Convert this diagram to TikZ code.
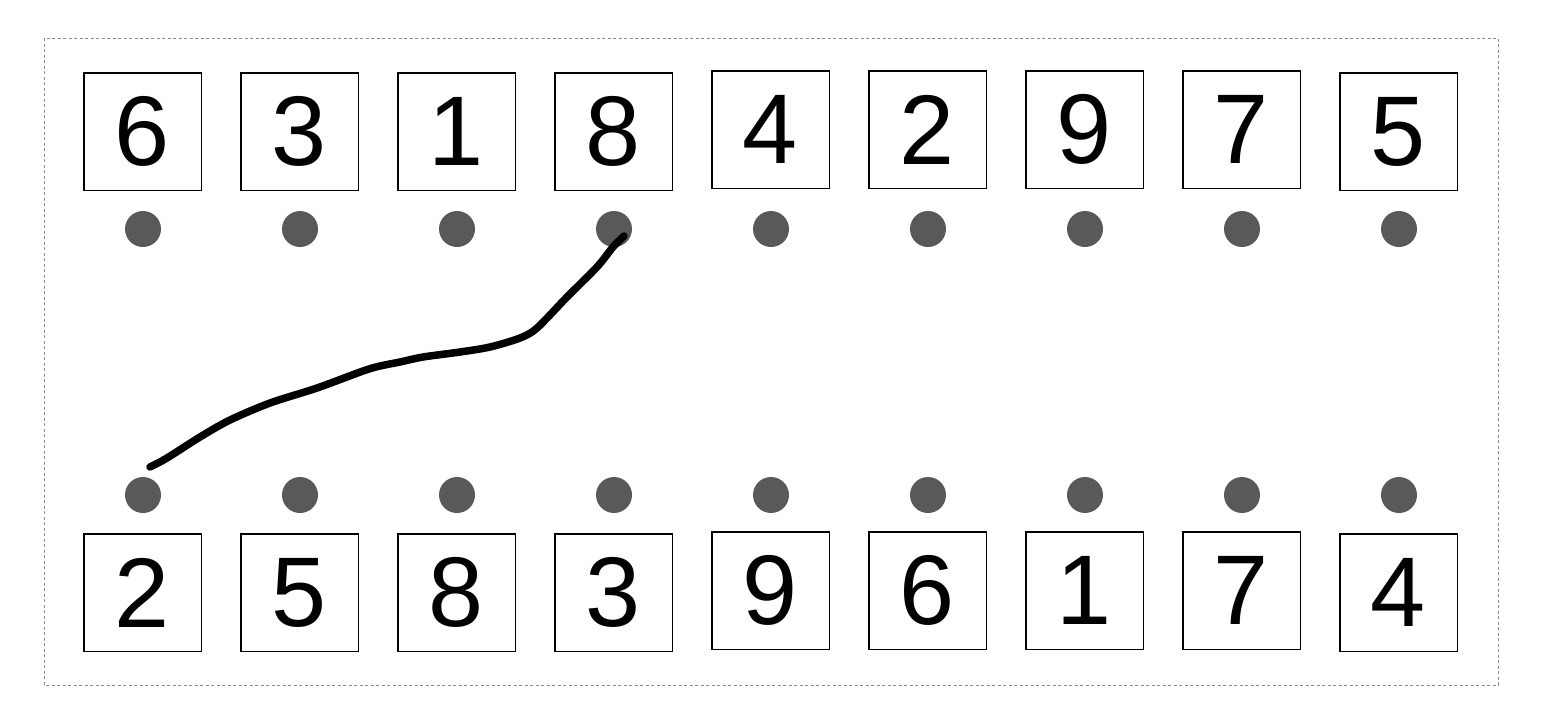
\documentclass[tikz,border=0pt]{standalone}
\usepackage{fontspec}
\setmainfont{Liberation Sans}
\definecolor{dotgray}{HTML}{595959}
\definecolor{framegray}{HTML}{8C8C8C}
\begin{document}
\begin{tikzpicture}[x=1pt,y=-1pt,
  numbox/.style={draw=black, line width=1.5pt, minimum size=117.5pt, inner sep=0pt,
    font=\fontsize{99}{100}\selectfont},
  pin/.style={circle, fill=dotgray, minimum size=36pt, inner sep=0pt},
  swap/.style={line width=7.5pt, line cap=round, line join=round}]
\useasboundingbox (0,0) rectangle (1542,724);
\draw[framegray, line width=1pt, dash pattern=on 3pt off 2.5pt] (44,38) rectangle (1498,685);
% top row
\foreach \v [count=\i from 0] in {6,3,1,8,4,2,9,7,5} {
  \pgfmathsetmacro\yy{(\i>=4 && \i<=7) ? 129.5 : 131.5}
  \node[numbox] (t\i) at (142.5+157*\i,\yy) {\v};
  \node[pin] (tp\i) at (143+157*\i,229) {};
}
% bottom row
\foreach \v [count=\i from 0] in {2,5,8,3,9,6,1,7,4} {
  \pgfmathsetmacro\yy{(\i>=4 && \i<=7) ? 590.5 : 592.5}
  \node[numbox] (b\i) at (142.5+157*\i,\yy) {\v};
  \node[pin] (bp\i) at (143+157*\i,495) {};
}
\coordinate (s) at ([shift={(10,7)}]tp3.center);
\coordinate (e) at ([shift={(7,-28)}]bp0.center);
\draw[swap] plot[smooth, tension=0.5] coordinates {
  (s) (613,247) (597,267) (567,297) (537,328) (520,338) (490,347)
  (460,352) (423,357) (400,362) (380,366) (363,371) (317,388) (270,403)
  (230,420) (200,437) (167,458) (e)};
\end{tikzpicture}
\end{document}
